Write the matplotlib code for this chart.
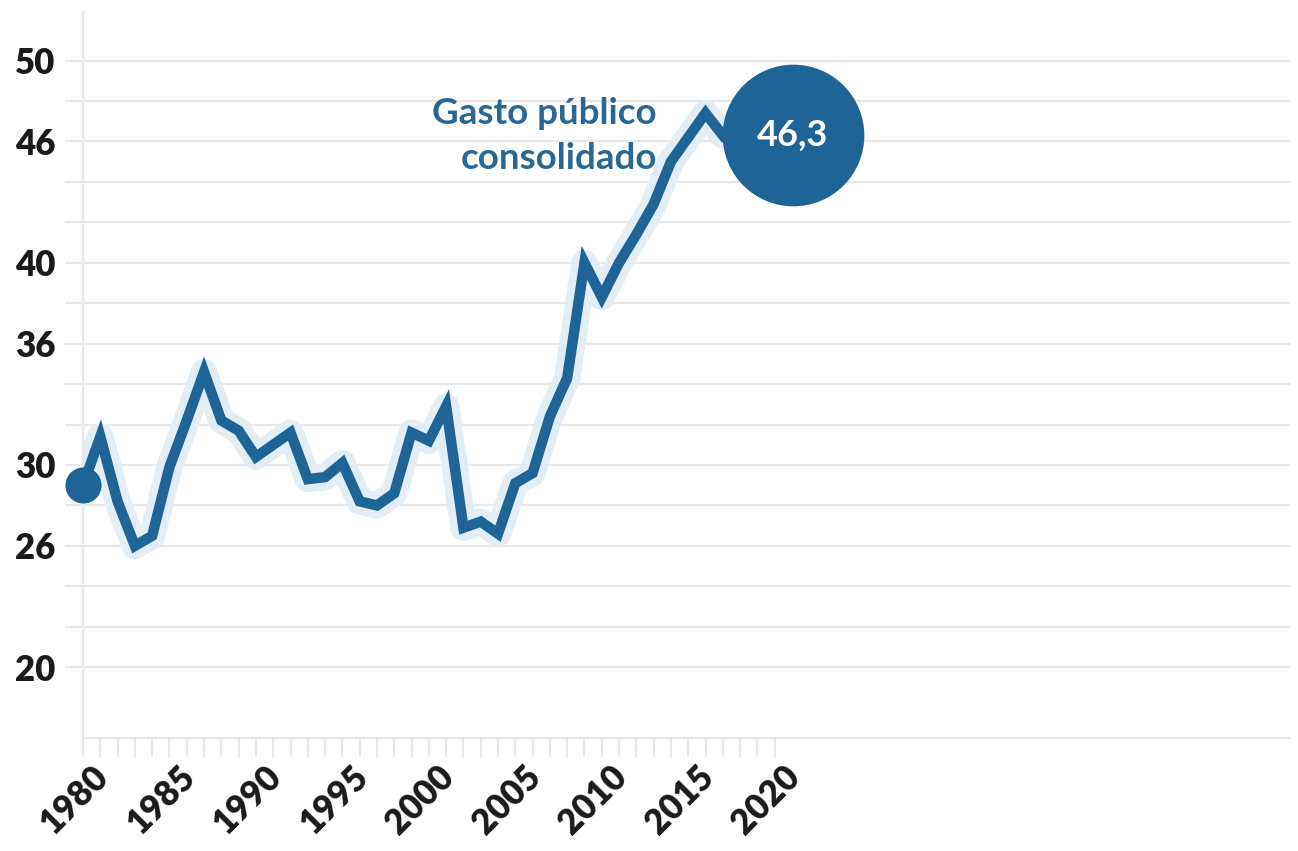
import matplotlib.pyplot as plt
from matplotlib.transforms import offset_copy, ScaledTranslation

# gasto publico consolidado (% PIB)
anos = list(range(1980, 2018))
gasto = [29.0, 31.4, 28.2, 26.0, 26.5, 29.9, 32.2, 34.6, 32.2, 31.7,
         30.4, 31.0, 31.6, 29.3, 29.4, 30.1, 28.2, 28.0, 28.6, 31.6,
         31.2, 32.9, 26.9, 27.2, 26.6, 29.1, 29.6, 32.4, 34.3, 40.0,
         38.3, 40.0, 41.4, 42.9, 45.0, 46.2, 47.4, 46.3]
y_rotulos = [20, 26, 30, 36, 40, 46, 50]
x_rotulos = list(range(1980, 2021, 5))
valor_final = "46,3"
titulo_serie = "Gasto público\nconsolidado"

azul = "#1f6496"
halo = "#e3edf6"
grade = "#e8e8e8"

plt.rcParams['font.family'] = ['Lato', 'DejaVu Sans']

fig = plt.figure(figsize=(12.98, 8.51), dpi=100)
ax = fig.add_axes([83 / 1298, 113 / 851, 1207 / 1298, 726 / 851])
ax.set_xlim(1980, 2049.8)
ax.set_ylim(16.5, 52.4)

# grade horizontal
yt = list(range(20, 52, 2))
ax.set_yticks(yt)
ax.set_yticklabels([str(v) if v in y_rotulos else '' for v in yt])
ax.grid(axis='y', color=grade, linewidth=1.6)
ax.set_axisbelow(True)

xt = list(range(1980, 2021))
ax.set_xticks(xt)
ax.set_xticklabels([str(v) if v in x_rotulos else '' for v in xt],
                   rotation=45, ha='right', va='center', rotation_mode='anchor')

ax.tick_params(axis='y', length=13, width=1.6, color=grade, pad=7,
               labelsize=25, labelcolor='#1a1a1a')
ax.tick_params(axis='x', length=14, width=1.6, color=grade, pad=10,
               labelsize=25, labelcolor='#1a1a1a')
for lb in ax.get_yticklabels() + ax.get_xticklabels():
    lb.set_fontweight('heavy')
for lb in ax.get_xticklabels():
    lb.set_transform(lb.get_transform() + ScaledTranslation(0.2, 0, fig.dpi_scale_trans))

for s in ['top', 'right']:
    ax.spines[s].set_visible(False)
for s in ['left', 'bottom']:
    ax.spines[s].set_color(grade)
    ax.spines[s].set_linewidth(1.6)

# linha com halo
ax.plot(anos, gasto, color=halo, lw=19, solid_joinstyle='round',
        solid_capstyle='round', zorder=2)
ax.plot(anos, gasto, color=azul, lw=7.5, solid_joinstyle='miter', zorder=3)
ax.plot(anos[0], gasto[0], 'o', color=azul, ms=26, mec='none', zorder=4,
        clip_on=False)

# bolha com o valor final, encostada no ultimo ponto
tr = offset_copy(ax.transData, fig=fig, x=70, y=0, units='dots')
ax.plot(anos[-1], gasto[-1], 'o', color=azul, ms=102, mec='none', zorder=5,
        transform=tr, clip_on=False)
ax.text(anos[-1], gasto[-1], valor_final, transform=tr, color='white',
        fontsize=26, fontweight='bold', ha='center', va='center', zorder=6)

ax.text(2013.2, 46.25, titulo_serie, color='#2a6794', fontsize=26.5,
        fontweight='bold', ha='right', va='center', linespacing=1.45,
        zorder=6)

fig.savefig('out.png', dpi=100, facecolor='white')
